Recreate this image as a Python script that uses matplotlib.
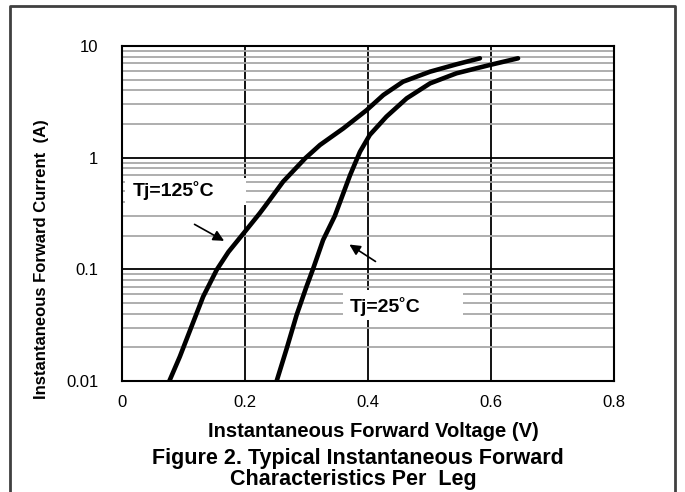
import matplotlib.pyplot as plt
from matplotlib.lines import Line2D
from matplotlib.patches import Rectangle
from matplotlib.ticker import LogLocator, NullFormatter

plt.rcParams['font.family'] = ['Liberation Sans', 'DejaVu Sans']

# Tj = 125 C curve (volts, amps)
v_125 = [0.077, 0.094, 0.113, 0.132, 0.154, 0.173, 0.200, 0.224, 0.233, 0.262,
         0.298, 0.322, 0.360, 0.398, 0.425, 0.457, 0.501, 0.544, 0.582]
i_125 = [0.01, 0.0165, 0.0307, 0.057, 0.099, 0.143, 0.218, 0.318, 0.37, 0.61,
         0.988, 1.30, 1.83, 2.67, 3.64, 4.79, 5.89, 6.86, 7.76]

# Tj = 25 C curve
v_25 = [0.2515, 0.268, 0.284, 0.300, 0.311, 0.327, 0.346, 0.3545, 0.371, 0.387,
        0.403, 0.430, 0.463, 0.501, 0.544, 0.598, 0.644]
i_25 = [0.01, 0.0197, 0.0391, 0.070, 0.102, 0.183, 0.300, 0.40, 0.70, 1.13,
        1.60, 2.33, 3.40, 4.63, 5.70, 6.76, 7.76]

x_ticks = [0, 0.2, 0.4, 0.6, 0.8]
x_labels = ['0', '0.2', '0.4', '0.6', '0.8']
y_ticks = [0.01, 0.1, 1, 10]
y_labels = ['0.01', '0.1', '1', '10']

fig = plt.figure(figsize=(6.85, 4.92), dpi=100)
ax = fig.add_axes([0.1781, 0.2256, 0.7182, 0.6809])

ax.set_yscale('log')
ax.set_xlim(0, 0.8)
ax.set_ylim(0.01, 10)

ax.yaxis.set_minor_locator(LogLocator(base=10, subs=range(2, 10)))
ax.yaxis.set_minor_formatter(NullFormatter())
ax.grid(which='minor', axis='y', color='#a8a8a8', lw=1.3)
ax.grid(which='major', axis='both', color='black', lw=1.3)
ax.set_axisbelow(True)

ax.set_xticks(x_ticks)
ax.set_xticklabels(x_labels)
ax.set_yticks(y_ticks)
ax.set_yticklabels(y_labels)
ax.tick_params(which='both', length=0, labelsize=12)
ax.tick_params(axis='y', pad=17)
ax.tick_params(axis='x', pad=10)

for s in ax.spines.values():
    s.set_linewidth(1.5)

ax.plot(v_125, i_125, color='black', lw=3.3, solid_capstyle='round',
        solid_joinstyle='round', zorder=5)
ax.plot(v_25, i_25, color='black', lw=3.3, solid_capstyle='round',
        solid_joinstyle='round', zorder=5)

ax.annotate('', xy=(0.170, 0.175), xytext=(0.114, 0.26),
            arrowprops=dict(arrowstyle='-|>', color='black', lw=1.2, mutation_scale=16), zorder=6)
ax.annotate('', xy=(0.366, 0.172), xytext=(0.416, 0.114),
            arrowprops=dict(arrowstyle='-|>', color='black', lw=1.2, mutation_scale=16), zorder=6)

# white label boxes that break the grid lines
ax.add_patch(Rectangle((0.006, 0.525), 0.246, 0.081, transform=ax.transAxes,
                       facecolor='white', edgecolor='none', zorder=3))
ax.add_patch(Rectangle((0.449, 0.182), 0.244, 0.090, transform=ax.transAxes,
                       facecolor='white', edgecolor='none', zorder=3))

ax.text(0.018, 0.51, 'Tj=125\u02daC', fontsize=14, fontweight='bold', va='center', ha='left', zorder=4)
ax.text(0.371, 0.046, 'Tj=25\u02daC', fontsize=14, fontweight='bold', va='center', ha='left', zorder=4)

fig.text(0.0613, 0.474, 'Instantaneous Forward Current  (A)', rotation=90, fontsize=12,
         fontweight='bold', ha='center', va='center')
fig.text(0.545, 0.122, 'Instantaneous Forward Voltage (V)', fontsize=14.5,
         fontweight='bold', ha='center', va='center')
fig.text(0.522, 0.0691, 'Figure 2. Typical Instantaneous Forward', fontsize=15.5,
         fontweight='bold', ha='center', va='center')
fig.text(0.516, 0.0264, 'Characteristics Per  Leg', fontsize=15.5,
         fontweight='bold', ha='center', va='center')

# outer frame
fx0, fx1, fy1 = 10 / 685, 675 / 685, 1 - 6 / 492
fig.add_artist(Line2D([fx0, fx0, fx1, fx1], [-0.1, fy1, fy1, -0.1], color='#404040', lw=2))

fig.savefig('out.png', dpi=100)
